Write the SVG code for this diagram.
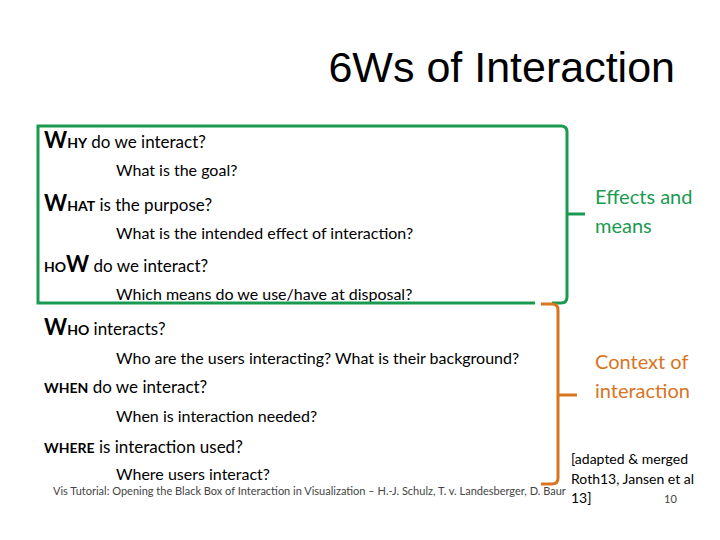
<svg xmlns="http://www.w3.org/2000/svg" width="720" height="540" viewBox="0 0 720 540">
<style>
.t{font-family:Lato,"Open Sans",sans-serif;fill:#000}
.h{font-size:17px}
.s{font-size:16px}
.big{font-size:22px;font-weight:bold}
.sm{font-size:14px;font-weight:bold}
.g{fill:none;stroke:#1a9a50;stroke-width:3}
.o{fill:none;stroke:#d9741f;stroke-width:3}
</style>
<rect width="720" height="540" fill="#fff"/>
<text x="675" y="82" text-anchor="end" style="font-family:'Liberation Sans',Arial,sans-serif;font-size:43px">6Ws of Interaction</text>
<g id="why"><text class="t h" x="44" y="148"><tspan class="big">W</tspan><tspan class="sm">HY</tspan> do we interact?</text>
<text class="t s" x="116" y="176">What is the goal?</text></g>
<g id="what"><text class="t h" x="44" y="211"><tspan class="big">W</tspan><tspan class="sm">HAT</tspan> is the purpose?</text>
<text class="t s" x="116" y="239">What is the intended effect of interaction?</text></g>
<g id="how"><text class="t h" x="44" y="272"><tspan class="sm">HO</tspan><tspan class="big">W</tspan> do we interact?</text>
<text class="t s" x="116" y="300">Which means do we use/have at disposal?</text></g>
<g id="who"><text class="t h" x="44" y="335"><tspan class="big">W</tspan><tspan class="sm">HO</tspan> interacts?</text>
<text class="t s" x="116" y="364">Who are the users interacting? What is their background?</text></g>
<g id="when"><text class="t h" x="44" y="393"><tspan class="sm">WHEN</tspan> do we interact?</text>
<text class="t s" x="116" y="422">When is interaction needed?</text></g>
<g id="where"><text class="t h" x="44" y="453"><tspan class="sm">WHERE</tspan> is interaction used?</text>
<text class="t s" x="116" y="480">Where users interact?</text></g>
<g id="connectors">
<path class="g" d="M535 303 H38 V126 H561 Q567 126 567 132 V297 Q567 303 561 303 H552"/>
<path class="g" d="M567 214 H585"/>
<path class="o" d="M541 304 H552 Q558 304 558 310 V478 Q558 484 552 484 H541"/>
<path class="o" d="M558 395 H577"/>
</g>
<g id="effects"><text class="t" x="595" y="204" style="font-size:20px;fill:#1a9a50">Effects and</text>
<text class="t" x="595" y="233" style="font-size:20px;fill:#1a9a50">means</text></g>
<g id="context"><text class="t" x="595" y="369" style="font-size:20px;fill:#d9741f">Context of</text>
<text class="t" x="595" y="398" style="font-size:20px;fill:#d9741f">interaction</text></g>
<text class="t" x="571" y="464" style="font-size:14px">[adapted &amp; merged</text>
<text class="t" x="571" y="484" style="font-size:14px">Roth13, Jansen et al</text>
<text class="t" x="571" y="503" style="font-size:14px">13]</text>
<text class="t" x="53" y="495" style="font-size:11px;fill:#444">Vis Tutorial: Opening the Black Box of Interaction in Visualization – H.-J. Schulz, T. v. Landesberger, D. Baur</text>
<text class="t" x="664" y="503" style="font-size:11px;fill:#444">10</text>
</svg>
